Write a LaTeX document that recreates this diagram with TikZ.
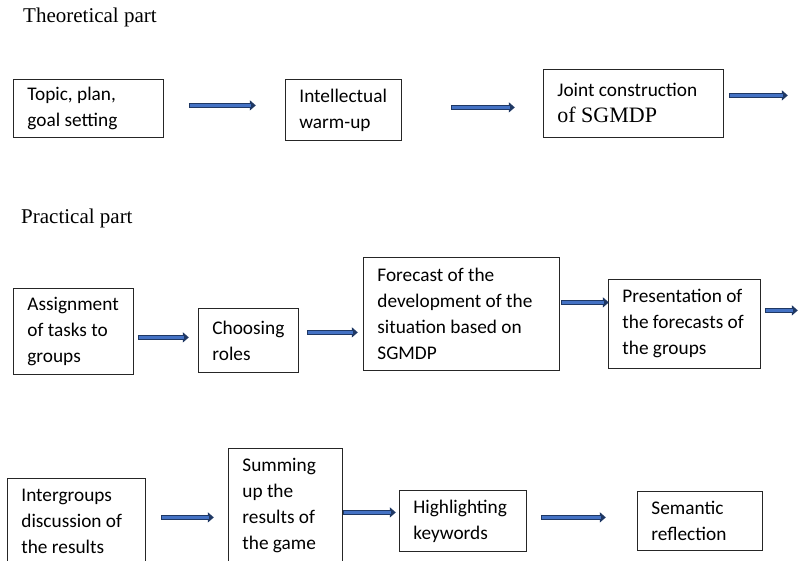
\documentclass[tikz,border=0pt]{standalone}
\usepackage{fontspec}
\setmainfont{Liberation Serif}
\newfontfamily\boxfont{Carlito}
\usepackage{tikz}
\usetikzlibrary{arrows.meta}

\definecolor{flowedge}{HTML}{1F3864}
\definecolor{flowfill}{HTML}{4472C4}

\tikzset{
  stage/.style={draw=black!85, line width=0.8pt, rectangle, anchor=north west,
    inner xsep=14pt, inner ysep=0pt, align=flush left,
    font=\boxfont\fontsize{19.3}{26}\selectfont},
  heading/.style={anchor=base west, inner sep=0pt, font=\fontsize{21}{26}\selectfont},
  flow/.style={draw=flowedge, line width=4.8pt, -{Triangle[length=6pt,width=10pt]},
    postaction={draw=flowfill, line width=2.6pt, shorten >=5pt, shorten <=1.1pt, -}}
}

\begin{document}
\begin{tikzpicture}[x=1pt, y=-1pt]

  \useasboundingbox (0,0) rectangle (800,560);

  % Theoretical part
  \node[heading] (theory) at (23,22) {Theoretical part};
  \node[stage, text width=122pt, minimum height=58pt] (topic) at (13,79) {Topic, plan,\\goal setting};
  \node[stage, text width=88pt, minimum height=61pt] (warmup) at (285,79) {Intellectual\\warm-up};
  \node[stage, text width=152pt, minimum height=68pt] (joint) at (543,69)
    {Joint construction\\{\rmfamily\fontsize{22}{26}\selectfont of SGMDP}};

  % Practical part
  \node[heading] (practice) at (21,223) {Practical part};
  \node[stage, text width=92pt, minimum height=86pt] (assign) at (13,288) {Assignment\\of tasks to\\groups};
  \node[stage, text width=72pt, minimum height=64pt] (roles) at (198,308) {Choosing\\roles};
  \node[stage, text width=168pt, minimum height=113pt] (forecast) at (363,257)
    {Forecast of the\\development of the\\situation based on\\SGMDP};
  \node[stage, text width=124pt, minimum height=89pt] (present) at (608,279)
    {Presentation~of\\the forecasts of\\the groups};

  % Last row, cut by the bottom edge
  \node[stage, text width=110pt, minimum height=86pt] (inter) at (7,478) {Intergroups\\discussion of\\the results};
  \node[stage, text width=86pt, minimum height=115pt] (summing) at (228,448)
    {Summing\\up the\\results of\\the game};
  \node[stage, text width=99pt, minimum height=61pt] (highlight) at (399,490) {Highlighting\\keywords};
  \node[stage, text width=97pt, minimum height=59pt] (semantic) at (637,491) {Semantic\\reflection};

  % Draw the arrows after each stage
  \foreach \from/\dx/\dy/\len in {topic/25/-3/67, warmup/49/-2.5/64, joint/5/-8/59,
      assign/4/6/51, roles/8/-8/51, forecast/1/-11.5/48, present/4/-13.5/33,
      inter/15/-4/53, summing/0/6.5/53, highlight/14/-3.5/65}
    \draw[flow] ([shift={(\dx,\dy)}]\from.east) -- ++(\len,0);

\end{tikzpicture}
\end{document}
